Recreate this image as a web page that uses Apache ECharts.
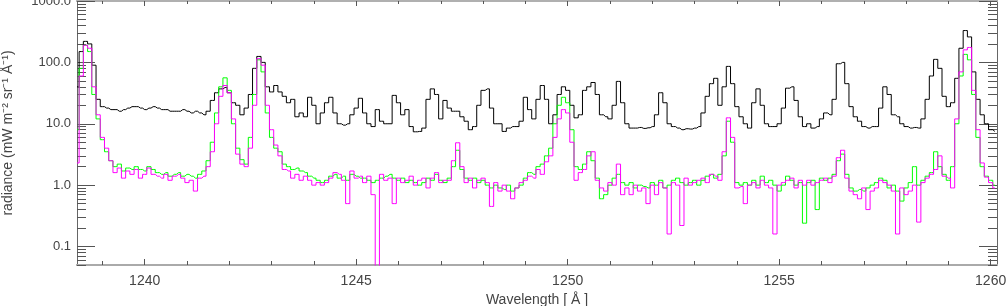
<!DOCTYPE html>
<html><head><meta charset="utf-8">
<script src="https://cdn.jsdelivr.net/npm/echarts@6/dist/echarts.min.js"></script>
<style>html,body{margin:0;padding:0;background:#fff}#c{width:1008px;height:306px}</style>
</head><body><div id="c"></div>
<script>
// wavelength grid (bin centres), Å
const lambdaStart = 1238.4;
const lambdaStep = 0.1;
const xMajorTicks = [1240, 1245, 1250, 1255, 1260];
const xMinorTicks = [1239,1241,1242,1243,1244,1246,1247,1248,1249,1251,1252,1253,1254,1256,1257,1258,1259];
const yMajorTicks = [0.1, 1, 10, 100, 1000];
const yMinorTicks = [0.05,0.06,0.07,0.08,0.09,0.2,0.3,0.4,0.5,0.6,0.7,0.8,0.9,2,3,4,5,6,7,8,9,20,30,40,50,60,70,80,90,200,300,400,500,600,700,800,900];

const blackSeries = [
40,150,220,200,90,25,19,18,17,17,
16,17,18,19,19,18,17,18,19,18,
17,17,16,16,16,17,16,15,16,15,
14,16,24,32,37,39,32,22,20,14,
18,30,80,125,100,40,33,42,33,28,
22,25,13,15,13,27,20,10,15,22,
27,15,10,9.5,10,14,18,26,15,10,
9,17,11,10,10,29,22,14,17,9,
7.4,7.5,8.5,25,37,30,12,24,18,16,
16,13,11,8,9,20,35,37,18,10,
10,7.5,8.5,9,9,11,27,17,12,25,
42,25,10,14,30,40,35,20,12.5,14,
35,40,47,30,14,13,12,20,49,22,
10,8.5,8.5,8.7,8.4,8.6,9,14,32,22,
10,9,8.5,8,8.3,8.2,8.5,9,15,28,
45,55,20,40,86,45,19,13,10,8.5,
22,37,20,10,9,9,10,18,38,40,
24,13,9,10,8.5,9,12,15,14,25,
95,100,45,19,13,11,9,8.5,9,9,
18,40,30,14,13,10,9,8.5,8.7,8.5,
12,25,60,112,80,28,19,22,55,170,
330,260,70,25,14,10,8,7.5];

const greenSeries = [
8,80,190,150,30,12,5.5,3.5,2.5,2.0,
2.2,1.7,1.9,1.8,2.0,1.8,1.7,2.0,1.8,1.6,
1.5,1.6,1.4,1.5,1.6,1.4,1.5,1.4,1.3,1.5,
1.7,2.5,5,15,40,56,35,10,4,2.6,
2.2,6,30,110,70,15,6,4,3.5,2.2,
2.0,1.8,1.9,1.7,1.6,1.4,1.3,1.2,1.1,1.2,
1.4,1.5,1.3,1.4,1.2,1.5,1.4,1.3,1.3,1.2,
1.1,1.2,1.3,1.4,1.5,1.3,1.2,1.3,1.1,1.2,
1.1,1.0,1.1,1.3,1.2,1.5,1.2,1.1,1.3,2.0,
3.7,1.8,1.3,1.2,1.3,1.1,1.2,1.0,0.9,1.0,
0.9,0.85,1.0,0.8,0.9,1.0,1.3,1.6,1.5,2.0,
2.2,3,4,10,20,27,22,8,2.0,1.8,
2.2,3.5,2.5,1.3,0.6,0.7,1.0,1.3,1.5,1.1,
1.0,1.1,0.9,1.0,0.95,0.9,1.1,1.0,1.2,0.9,
1.0,1.2,1.3,1.1,1.0,1.1,1.2,1.0,1.2,1.4,
1.5,1.3,1.5,3,11,5,1.1,1.0,1.1,1.0,
1.2,1.0,1.4,1.1,1.2,1.0,0.8,1.0,1.4,1.2,
1.0,1.1,0.24,1.1,1.2,0.4,1.3,1.2,1.3,1.5,
2.5,3.2,1.5,0.9,0.8,0.85,0.8,0.9,1.0,1.1,
1.3,1.2,0.9,1.0,0.8,0.55,0.9,1.1,2.0,1.0,
1.2,1.4,1.6,3.5,2.0,1.5,1.2,2.0,10,60,
135,110,30,6,2.0,1.4,1.2,1.0];

const magentaSeries = [
2.3,60,190,170,40,14,6,4,2.5,1.6,
1.9,1.3,1.7,1.5,1.8,1.3,1.5,1.9,1.5,1.4,
1.3,1.5,1.2,1.4,1.5,1.3,1.1,1.2,0.8,1.3,
1.4,2.0,3.5,10,28,42,32,12,3.2,2.2,
2.0,4,20,115,90,20,8,4.5,3.0,1.8,
1.7,1.3,1.5,1.2,1.4,1.2,1.0,1.1,1.0,1.1,
1.3,1.6,1.5,1.2,0.5,1.7,1.3,1.4,1.1,1.4,
0.7,0.02,1.5,1.2,1.3,0.5,1.3,1.1,1.2,1.4,
1.0,1.2,1.3,0.9,1.3,1.6,1.1,1.2,1.2,2.5,
4.9,2.0,1.1,1.3,0.9,1.2,1.3,1.1,0.45,1.1,
0.8,1.0,0.8,0.6,0.9,1.1,1.2,1.4,1.3,1.8,
1.5,2.4,3,6,12,17,15,5,1.2,1.6,
1.8,3.0,3.5,1.2,0.9,0.8,1.1,1.0,2.2,0.7,
0.9,0.7,1.0,0.8,0.9,0.5,1.0,0.7,1.1,0.9,
0.16,1.1,1.0,0.22,1.3,1.0,1.1,1.2,1.3,1.1,
1.5,1.4,1.2,3.5,12.5,6,0.9,0.95,0.5,1.0,
1.1,0.9,1.2,1.0,0.9,0.16,1.0,1.1,1.2,1.3,
0.9,1.2,1.0,1.2,1.0,1.1,1.2,1.3,1.1,1.4,
2.8,3.7,1.3,0.8,0.7,0.6,0.9,0.4,0.8,0.9,
1.2,1.1,1.0,0.8,0.16,0.9,0.7,0.8,1.0,0.25,
1.1,1.3,1.5,1.8,3.0,1.4,1.3,0.9,12,70,
160,175,35,8,2.3,1.35,1.1,0.9];

function pairs(vals){ return vals.map((v,i)=>[lambdaStart + i*lambdaStep, v]); }

const X_MIN = 1238.4, X_MAX = 1260.15, Y_MIN = 0.05, Y_MAX = 1000;
const FONT = 'Liberation Sans';
const tickCol = '#555';

function xAx(pos, ticks, len, showLabel, lineCol, lineW, extra){
  return Object.assign({
    type:'value', position:pos, min:X_MIN, max:X_MAX,
    axisLine:{show:true, onZero:false, lineStyle:{color:lineCol, width:lineW}},
    axisTick:{show:true, inside:true, length:len, customValues:ticks, lineStyle:{color:tickCol, width:1}},
    axisLabel:{show:showLabel, customValues:ticks, color:'#444', fontFamily:FONT, fontSize:14, margin:9,
      formatter:(v)=>String(Math.round(v))},
    splitLine:{show:false}
  }, extra||{});
}
function yAx(pos, ticks, len, showLabel, extra){
  return Object.assign({
    type:'log', logBase:10, position:pos, min:Y_MIN, max:Y_MAX,
    axisLine:{show:true, onZero:false, lineStyle:{color:'#666', width:1}},
    axisTick:{show:true, inside:true, length:len, customValues:ticks, lineStyle:{color:tickCol, width:1}},
    axisLabel:{show:showLabel, customValues:ticks, color:'#444', fontFamily:FONT, fontSize:13, margin:6,
      formatter:(v)=>Number(v).toFixed(1)},
    splitLine:{show:false}
  }, extra||{});
}

const chart = echarts.init(document.getElementById('c'), null, {renderer:'canvas'});
chart.setOption({
  animation:false,
  backgroundColor:'#fff',
  grid:{left:77, right:11, top:1, bottom:41, containLabel:false, outerBoundsMode:'none'},
  xAxis:[
    xAx('bottom', xMajorTicks, 6, true, '#aaa', 2, {name:'Wavelength [ Å ]', nameLocation:'middle', nameGap:22,
      nameTextStyle:{color:'#444', fontFamily:FONT, fontSize:14}}),
    xAx('bottom', xMinorTicks, 4, false, '#aaa', 2),
    xAx('top', xMajorTicks, 5, false, '#b0b0b0', 2),
    xAx('top', xMinorTicks, 3, false, '#b0b0b0', 2)
  ],
  yAxis:[
    yAx('left', yMajorTicks, 18, true, {name:'radiance (mW m⁻² sr⁻¹ Å⁻¹)', nameLocation:'middle', nameGap:62, nameRotate:90,
      nameTextStyle:{color:'#444', fontFamily:FONT, fontSize:14}}),
    yAx('left', yMinorTicks, 9, false),
    yAx('right', yMajorTicks, 18, false),
    yAx('right', yMinorTicks, 9, false)
  ],
  series:[
    {type:'line', name:'black', step:'middle', data:pairs(blackSeries), showSymbol:false, symbol:'none',
      lineStyle:{color:'#000', width:1}, xAxisIndex:0, yAxisIndex:0, clip:true},
    {type:'line', name:'green', step:'middle', data:pairs(greenSeries), showSymbol:false, symbol:'none',
      lineStyle:{color:'#00ff00', width:1}, xAxisIndex:0, yAxisIndex:0, clip:true},
    {type:'line', name:'magenta', step:'middle', data:pairs(magentaSeries), showSymbol:false, symbol:'none',
      lineStyle:{color:'#ff00ff', width:1}, xAxisIndex:0, yAxisIndex:0, clip:true}
  ]
});
</script></body></html>
